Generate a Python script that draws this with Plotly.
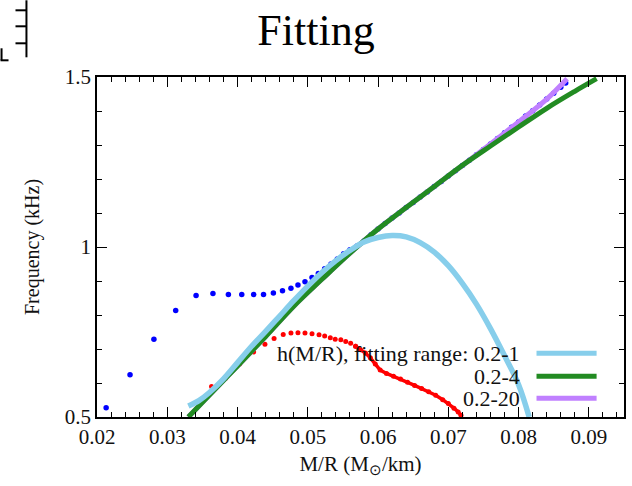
import plotly.graph_objects as go

# ---------------- data ----------------
blue_x = [0.0213, 0.0247, 0.0281, 0.0312, 0.0341, 0.0365, 0.0387, 0.0406, 0.0423, 0.0437,
          0.0451, 0.0464, 0.0476, 0.0486, 0.0496, 0.0506, 0.0515, 0.0524, 0.0533, 0.0542,
          0.0551, 0.0560, 0.0570, 0.0580, 0.0590, 0.0600, 0.0610, 0.0620, 0.0630, 0.0640,
          0.0650, 0.0660, 0.0670, 0.0680, 0.0690, 0.0700, 0.0710, 0.0720, 0.0730, 0.0740,
          0.0750, 0.0760, 0.0770, 0.0780, 0.0790, 0.0800, 0.0810, 0.0820, 0.0830, 0.0840,
          0.0850, 0.0860, 0.0867]
blue_y = [0.527, 0.624, 0.729, 0.813, 0.857, 0.863, 0.860, 0.860, 0.860, 0.860,
          0.865, 0.871, 0.879, 0.888, 0.898, 0.910, 0.922, 0.936, 0.950, 0.965,
          0.980, 0.992, 1.003, 1.018, 1.036, 1.053, 1.069, 1.085, 1.100, 1.116,
          1.131, 1.147, 1.162, 1.178, 1.193, 1.209, 1.224, 1.240, 1.255, 1.271,
          1.287, 1.303, 1.319, 1.336, 1.352, 1.368, 1.385, 1.401, 1.418, 1.435,
          1.452, 1.470, 1.482]

# sparse part of the red series (separate dots)
red_dot_x = [0.0363, 0.0383, 0.0403, 0.0423, 0.0439, 0.0452, 0.0465, 0.0476, 0.0486,
             0.0496, 0.0506, 0.0516, 0.0524, 0.0532, 0.0539, 0.0547, 0.0554, 0.0561, 0.0568]
red_dot_y = [0.590, 0.614, 0.656, 0.691, 0.714, 0.731, 0.743, 0.747, 0.748,
             0.747, 0.745, 0.742, 0.738, 0.733, 0.729, 0.727, 0.722, 0.717, 0.708]
# dense part of the red series (dots merge into a line)
red_dense_x = [0.0568, 0.0575, 0.0582, 0.0589, 0.0596, 0.0603, 0.0612, 0.0622, 0.0632, 0.0642,
               0.0652, 0.0662, 0.0672, 0.0682, 0.0692, 0.0700, 0.0708, 0.0714, 0.0718]
red_dense_y = [0.708, 0.698, 0.688, 0.674, 0.656, 0.638, 0.628, 0.620, 0.612, 0.602,
               0.593, 0.584, 0.574, 0.564, 0.551, 0.540, 0.526, 0.515, 0.505]

fit1_x = [0.0330, 0.0345, 0.0360, 0.0380, 0.0400, 0.0420, 0.0440, 0.0460, 0.0480, 0.0500,
          0.0520, 0.0540, 0.0560, 0.0580, 0.0600, 0.0620, 0.0640, 0.0660, 0.0680, 0.0700,
          0.0720, 0.0740, 0.0760, 0.0780, 0.0800, 0.0815]
fit1_y = [0.532, 0.548, 0.572, 0.612, 0.660, 0.708, 0.752, 0.797, 0.842, 0.885,
          0.925, 0.960, 0.990, 1.015, 1.028, 1.034, 1.030, 1.013, 0.985, 0.945,
          0.893, 0.832, 0.760, 0.680, 0.595, 0.500]

fit4_x = [0.0330, 0.0360, 0.0400, 0.0440, 0.0480, 0.0520, 0.0560, 0.0600, 0.0640, 0.0680,
          0.0720, 0.0760, 0.0800, 0.0840, 0.0880, 0.0911]
fit4_y = [0.500, 0.565, 0.650, 0.737, 0.826, 0.905, 0.982, 1.053, 1.116, 1.178,
          1.240, 1.297, 1.353, 1.408, 1.458, 1.495]

fit20_x = [0.0330, 0.0360, 0.0400, 0.0440, 0.0480, 0.0520, 0.0560, 0.0600, 0.0640, 0.0680,
           0.0720, 0.0760, 0.0800, 0.0840, 0.0869]
fit20_y = [0.500, 0.565, 0.650, 0.737, 0.826, 0.905, 0.982, 1.053, 1.116, 1.178,
           1.240, 1.303, 1.368, 1.435, 1.495]

legend_labels = ["h(M/R), fitting range: 0.2-1", "0.2-4", "0.2-20"]
colors = {"blue": "#0000ff", "red": "#ff0000", "fit1": "#87ceeb",
          "fit4": "#228b22", "fit20": "#c080ff"}

FONT = "Liberation Serif, Times New Roman, serif"

fig = go.Figure()
fig.add_trace(go.Scatter(x=blue_x, y=blue_y, mode="markers",
                         marker=dict(color=colors["blue"], size=5.5), showlegend=False))
fig.add_trace(go.Scatter(x=red_dot_x, y=red_dot_y, mode="markers",
                         marker=dict(color=colors["red"], size=5), showlegend=False))
fig.add_trace(go.Scatter(x=red_dense_x, y=red_dense_y, mode="lines+markers",
                         line=dict(color=colors["red"], width=3.5),
                         marker=dict(color=colors["red"], size=5), showlegend=False))
fig.add_trace(go.Scatter(x=fit20_x, y=fit20_y, mode="lines", line=dict(color=colors["fit20"], width=5, shape="spline"),
                         showlegend=False))
fig.add_trace(go.Scatter(x=fit4_x, y=fit4_y, mode="lines", line=dict(color=colors["fit4"], width=5, shape="spline"),
                         showlegend=False))
fig.add_trace(go.Scatter(x=fit1_x, y=fit1_y, mode="lines", line=dict(color=colors["fit1"], width=5.5, shape="spline"),
                         showlegend=False))

# gnuplot-style legend: text right-aligned, sample line on the right
leg_rows = [0.1874, 0.1197, 0.055]
leg_cols = [colors["fit1"], colors["fit4"], colors["fit20"]]
shapes = []
annotations = []
for lab, yy, c in zip(legend_labels, leg_rows, leg_cols):
    annotations.append(dict(x=0.806, y=yy, xref="paper", yref="paper", text=lab, showarrow=False,
                            xanchor="right", yanchor="middle", font=dict(family=FONT, size=22, color="#111")))
    shapes.append(dict(type="line", xref="paper", yref="paper", x0=0.834, x1=0.948, y0=yy, y1=yy,
                       line=dict(color=c, width=5)))

# fragment of a neighbouring panel at the top-left corner
def px2paper(px, py):
    return (px - 96.8) / 528.9, (416.7 - py) / 340.0

frag = [((26, 0), (26, 57)), ((15, 10), (26, 10)), ((15, 26), (26, 26)), ((15, 43), (26, 43)),
        ((1, 48), (1, 60)), ((0, 60), (8, 60))]
for (a, b) in frag:
    x0, y0 = px2paper(*a)
    x1, y1 = px2paper(*b)
    shapes.append(dict(type="line", xref="paper", yref="paper", x0=x0, y0=y0, x1=x1, y1=y1,
                       line=dict(color="black", width=2)))

axis_common = dict(showgrid=False, zeroline=False, showline=True, linecolor="black", linewidth=1.5,
                   mirror="allticks", ticks="inside", ticklen=10, tickwidth=1.2, tickcolor="black",
                   tickfont=dict(family=FONT, size=21, color="#111"))

fig.update_layout(
    width=632, height=486,
    margin=dict(l=97, r=6, t=77, b=69),
    paper_bgcolor="white", plot_bgcolor="white",
    title=dict(text="Fitting", x=0.5, xanchor="center", y=0.94, yanchor="middle",
               font=dict(family=FONT, size=44, color="black")),
    xaxis=dict(range=[0.02, 0.095], tickmode="array",
               tickvals=[0.02, 0.03, 0.04, 0.05, 0.06, 0.07, 0.08, 0.09],
               ticktext=["0.02", "0.03", "0.04", "0.05", "0.06", "0.07", "0.08", "0.09"],
               minor=dict(ticks="inside", ticklen=5, tickwidth=1, tickcolor="black", dtick=0.002, tick0=0.02),
               title=dict(text="M/R (M<sub>⊙</sub>/km)", font=dict(family=FONT, size=21, color="#111"), standoff=8),
               **axis_common),
    yaxis=dict(range=[0.5, 1.5], tickmode="array", tickvals=[0.5, 1.0, 1.5], ticktext=["0.5", "1", "1.5"],
               minor=dict(ticks="inside", ticklen=5, tickwidth=1, tickcolor="black", dtick=0.1, tick0=0.5),
               title=dict(text="Frequency (kHz)", font=dict(family=FONT, size=20, color="#111"), standoff=20),
               **axis_common),
    shapes=shapes,
    annotations=annotations,
)

fig.write_html("out.html")
